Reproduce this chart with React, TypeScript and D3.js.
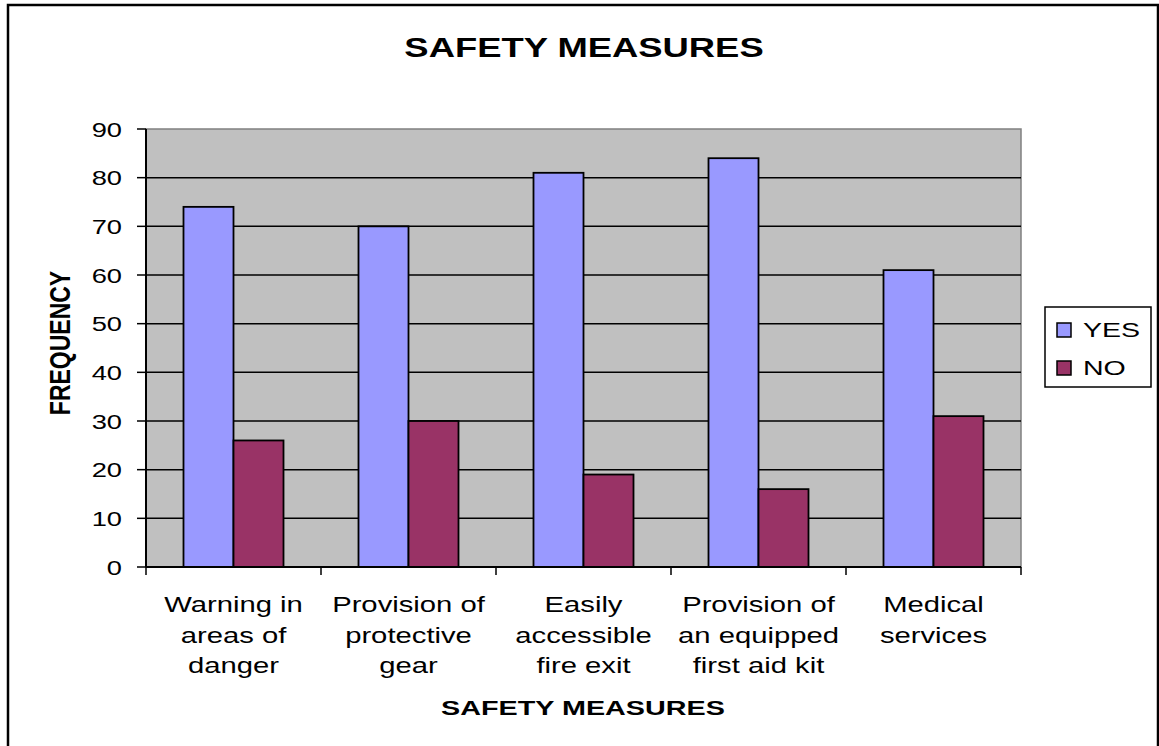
import * as d3 from 'd3';

const categories = [
  ['Warning in', 'areas of', 'danger'],
  ['Provision of', 'protective', 'gear'],
  ['Easily', 'accessible', 'fire exit'],
  ['Provision of', 'an equipped', 'first aid kit'],
  ['Medical', 'services'],
];
const seriesNames = ['YES', 'NO'];
const yesValues = [74, 70, 81, 84, 61];
const noValues = [26, 30, 19, 16, 31];
const yTicks = [0, 10, 20, 30, 40, 50, 60, 70, 80, 90];

const colors = ['#9999FF', '#993366'];
const FONT = 'Liberation Sans, Arial, sans-serif';

const W = 1159;
const H = 746;
const plot = { left: 146, right: 1021, top: 129, bottom: 567 };

export default function App() {
  const idx = categories.map((_, i) => i);
  const x = d3.scaleBand<number>().domain(idx).range([plot.left, plot.right]).paddingInner(0).paddingOuter(0);
  // two bars per group, 150% gap width like the original spreadsheet chart
  const inner = d3.scaleBand<number>().domain([0, 1]).range([0, x.bandwidth()]).paddingInner(0).paddingOuter(0.75);
  const y = d3.scaleLinear().domain([0, 90]).range([plot.bottom, plot.top]);
  const series = [yesValues, noValues];

  return (
    <svg width={W} height={H} style={{ position: 'absolute', left: 0, top: 0 }} fontFamily={FONT}>
      <rect x={0} y={0} width={W} height={H} fill="#fff" />
      <rect x={8} y={5} width={1150} height={760} fill="none" stroke="#000" strokeWidth={2.5} />

      {/* title */}
      <text transform="translate(584,57) scale(1.3,1)" textAnchor="middle" fontSize={28} fontWeight="bold">
        SAFETY MEASURES
      </text>

      {/* plot area */}
      <rect x={plot.left} y={plot.top} width={plot.right - plot.left} height={plot.bottom - plot.top} fill="#C0C0C0" stroke="#808080" strokeWidth={1.5} />
      {yTicks.filter(t => t > 0 && t < 90).map(t => (
        <line key={t} x1={plot.left} x2={plot.right} y1={y(t)} y2={y(t)} stroke="#000" strokeWidth={1.5} />
      ))}

      {/* bars */}
      {series.map((vals, s) =>
        vals.map((v, i) => (
          <rect
            key={`${s}-${i}`}
            x={(x(i) ?? 0) + (inner(s) ?? 0)}
            y={y(v)}
            width={inner.bandwidth()}
            height={y(0) - y(v)}
            fill={colors[s]}
            stroke="#000"
            strokeWidth={1.8}
          />
        ))
      )}

      {/* y axis */}
      <line x1={plot.left} x2={plot.left} y1={plot.top} y2={plot.bottom} stroke="#000" strokeWidth={2} />
      {yTicks.map(t => (
        <g key={t}>
          <line x1={plot.left - 9} x2={plot.left} y1={y(t)} y2={y(t)} stroke="#000" strokeWidth={1.5} />
          <text transform={`translate(122,${y(t) + 7.5}) scale(1.3,1)`} textAnchor="end" fontSize={21}>
            {t}
          </text>
        </g>
      ))}

      {/* x axis */}
      <line x1={plot.left} x2={plot.right} y1={plot.bottom} y2={plot.bottom} stroke="#000" strokeWidth={2} />
      {idx.concat([idx.length]).map(i => {
        const xx = i < idx.length ? (x(i) ?? 0) : plot.right;
        return <line key={i} x1={xx} x2={xx} y1={plot.bottom} y2={plot.bottom + 8} stroke="#000" strokeWidth={1.5} />;
      })}
      {categories.map((lines, i) =>
        lines.map((ln, j) => (
          <text
            key={`${i}-${j}`}
            transform={`translate(${(x(i) ?? 0) + x.bandwidth() / 2},${612 + j * 30.5}) scale(1.3,1)`}
            textAnchor="middle"
            fontSize={22.5}
          >
            {ln}
          </text>
        ))
      )}

      {/* axis titles */}
      <text transform="translate(583,715) scale(1.37,1)" textAnchor="middle" fontSize={21} fontWeight="bold">
        SAFETY MEASURES
      </text>
      <text transform="translate(70,343) rotate(-90) scale(1,1.3)" textAnchor="middle" fontSize={23} fontWeight="bold">
        FREQUENCY
      </text>

      {/* legend */}
      <rect x={1045} y={307} width={106} height={80} fill="#fff" stroke="#000" strokeWidth={1.5} />
      {seriesNames.map((name, s) => (
        <g key={name}>
          <rect x={1057} y={323 + s * 38} width={14} height={14} fill={colors[s]} stroke="#000" strokeWidth={1.5} />
          <text transform={`translate(1083,${337 + s * 38}) scale(1.36,1)`} fontSize={21}>
            {name}
          </text>
        </g>
      ))}
    </svg>
  );
}
